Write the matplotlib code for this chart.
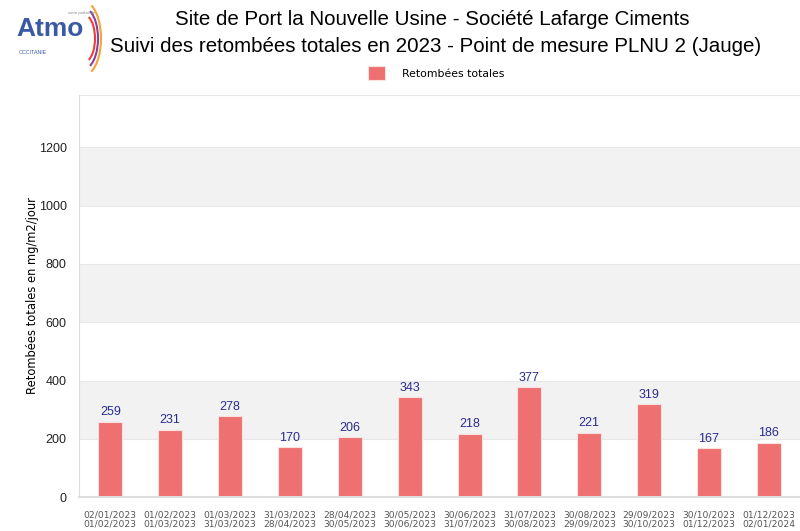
import matplotlib.pyplot as plt
from matplotlib.patches import Arc

# Données
periodes = ['02/01/2023\n01/02/2023', '01/02/2023\n01/03/2023', '01/03/2023\n31/03/2023',
            '31/03/2023\n28/04/2023', '28/04/2023\n30/05/2023', '30/05/2023\n30/06/2023',
            '30/06/2023\n31/07/2023', '31/07/2023\n30/08/2023', '30/08/2023\n29/09/2023',
            '29/09/2023\n30/10/2023', '30/10/2023\n01/12/2023', '01/12/2023\n02/01/2024']
retombees = [259, 231, 278, 170, 206, 343, 218, 377, 221, 319, 167, 186]
yticks = [0, 200, 400, 600, 800, 1000, 1200]

plt.rcParams['font.family'] = ['Liberation Sans', 'DejaVu Sans']

fig = plt.figure(figsize=(8, 5.31), dpi=100)
ax = fig.add_axes([0.099, 0.064, 0.901, 0.757])

# bandes grises alternées
for i in range(len(yticks) - 1):
    if i % 2 == 1:
        ax.axhspan(yticks[i], yticks[i + 1], color='#f2f2f2', zorder=0, lw=0)
for y in yticks[1:]:
    ax.axhline(y, color='#e8e8e8', lw=0.8, zorder=0.5)
ax.axhline(1380, color='#e6e6e6', lw=1.5, zorder=0.5)

x = range(len(retombees))
bars = ax.bar(x, retombees, width=0.4, color='#ef7070', edgecolor='#fbe0e0', linewidth=0.8,
              zorder=2, label='Retombées totales')
for xi, v in zip(x, retombees):
    ax.text(xi, v + 12, str(v), ha='center', va='bottom', fontsize=9, color='#2b2b8f')

ax.set_xlim(-0.52, 11.52)
ax.set_ylim(0, 1380)
ax.set_yticks(yticks)
ax.set_xticks(list(x))
ax.set_xticklabels(periodes, fontsize=6.6, color='#555555', linespacing=1.0,
                   family='DejaVu Sans')
ax.tick_params(axis='y', labelsize=9, length=0, pad=9, labelcolor='#222222')
ax.tick_params(axis='x', length=0, pad=10)
for s in ['top', 'right']:
    ax.spines[s].set_visible(False)
ax.spines['left'].set_color('#dddddd')
ax.spines['bottom'].set_color('#dddddd')
ax.spines['bottom'].set_linewidth(1.5)
ax.set_ylabel('Retombées totales en mg/m2/jour', fontsize=8.3, family='DejaVu Sans')
ax.yaxis.set_label_coords(-0.056, 0.5)

# titres
fig.text(0.54, 0.963, 'Site de Port la Nouvelle Usine - Société Lafarge Ciments',
         ha='center', va='center', fontsize=14.8)
fig.text(0.545, 0.913, 'Suivi des retombées totales en 2023 - Point de mesure PLNU 2 (Jauge)',
         ha='center', va='center', fontsize=14.8)

# légende
fig.legend(handles=[bars], loc='center', bbox_to_anchor=(0.545, 0.862), frameon=False,
           prop={'family': 'DejaVu Sans', 'size': 7.8}, handlelength=1.6, handleheight=1.6,
           handletextpad=1.5)

# logo Atmo
fig.text(0.02, 0.945, 'Atmo', fontsize=19, fontweight='bold', color='#3b5aa6', va='center')
fig.text(0.024, 0.902, 'OCCITANIE', fontsize=3.8, color='#3b5aa6', va='center')
fig.text(0.085, 0.975, 'votre portail de', fontsize=3, color='#888888', va='center')
lax = fig.add_axes([0.095, 0.865, 0.05, 0.125])
lax.set_xlim(-1, 1)
lax.set_ylim(-1, 1)
lax.axis('off')
for r, c in zip([0.55, 0.7, 0.85], ['#e8413c', '#8e3f98', '#f2a33a']):
    lax.add_patch(Arc((-0.6, 0), 2 * r, 2 * r * 1.3, theta1=-70, theta2=70, color=c, lw=1.5))

fig.savefig('out.png', dpi=100)
